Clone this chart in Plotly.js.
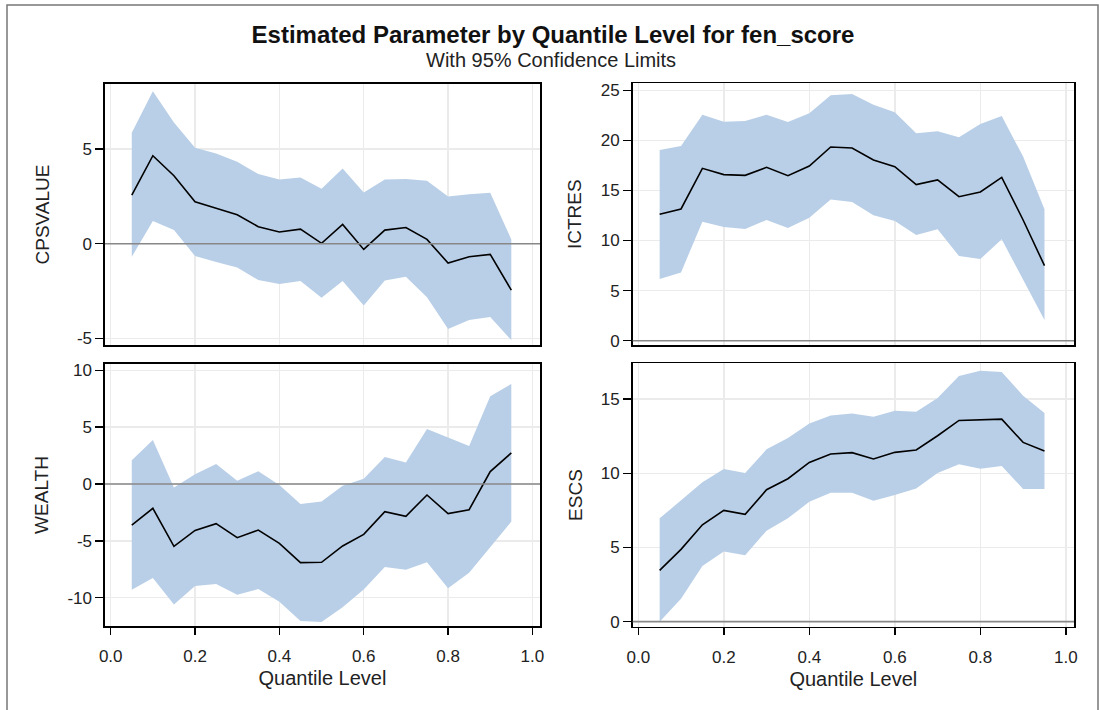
<!DOCTYPE html>
<html>
<head>
<meta charset="utf-8">
<script src="https://cdn.plot.ly/plotly-3.0.1.min.js"></script>
<style>html,body{margin:0;padding:0;background:#fff;}#chart{width:1099px;height:710px;}</style>
</head>
<body>
<div id="chart"></div>
<script>
var quantiles = [0.05,0.10,0.15,0.20,0.25,0.30,0.35,0.40,0.45,0.50,0.55,0.60,0.65,0.70,0.75,0.80,0.85,0.90,0.95];

var cpsvalueEst   = [2.57,4.65,3.59,2.22,1.88,1.53,0.90,0.62,0.77,0.02,1.02,-0.30,0.72,0.86,0.23,-1.02,-0.69,-0.56,-2.45];
var cpsvalueUpper = [5.86,8.06,6.41,5.07,4.77,4.33,3.68,3.40,3.50,2.90,3.98,2.71,3.40,3.42,3.33,2.50,2.62,2.69,0.23];
var cpsvalueLower = [-0.69,1.20,0.72,-0.65,-0.97,-1.25,-1.92,-2.13,-1.97,-2.85,-1.97,-3.26,-1.94,-1.74,-2.83,-4.51,-4.03,-3.87,-5.09];

var ictresEst   = [12.62,13.15,17.21,16.58,16.51,17.31,16.48,17.44,19.34,19.24,18.04,17.38,15.58,16.05,14.38,14.85,16.31,12.05,7.49];
var ictresUpper = [19.04,19.44,22.57,21.87,21.94,22.57,21.84,22.70,24.50,24.63,23.57,22.80,20.71,20.91,20.31,21.64,22.44,18.38,13.12];
var ictresLower = [6.16,6.82,11.88,11.35,11.15,12.05,11.25,12.28,14.11,13.85,12.52,11.95,10.55,11.12,8.46,8.16,10.12,6.06,2.06];

var wealthEst   = [-3.61,-2.14,-5.48,-4.08,-3.49,-4.72,-4.05,-5.22,-6.92,-6.89,-5.45,-4.43,-2.43,-2.84,-0.97,-2.61,-2.26,1.09,2.73];
var wealthUpper = [2.08,3.87,-0.32,0.85,1.76,0.29,1.11,-0.09,-1.76,-1.55,-0.15,0.47,2.38,1.88,4.84,4.08,3.34,7.71,8.80];
var wealthLower = [-9.30,-8.27,-10.59,-8.97,-8.80,-9.74,-9.24,-10.35,-12.05,-12.14,-10.85,-9.27,-7.30,-7.54,-6.89,-9.18,-7.80,-5.51,-3.31];

var escsEst   = [3.46,4.87,6.53,7.50,7.23,8.89,9.63,10.73,11.30,11.39,10.96,11.41,11.57,12.53,13.56,13.61,13.65,12.08,11.50];
var escsUpper = [6.96,8.15,9.39,10.29,10.02,11.61,12.37,13.36,13.90,14.03,13.81,14.22,14.15,15.07,16.55,16.91,16.82,15.23,14.06];
var escsLower = [0.00,1.55,3.75,4.72,4.47,6.13,6.96,8.08,8.69,8.69,8.15,8.53,8.98,10.02,10.60,10.31,10.49,8.94,8.94];

var xTickVals = [0,0.2,0.4,0.6,0.8,1.0];
var xTickText = ['0.0','0.2','0.4','0.6','0.8','1.0'];
var cpsvalueTickVals = [-5,0,5];       var cpsvalueTickText = ['-5','0','5'];
var ictresTickVals = [0,5,10,15,20,25]; var ictresTickText = ['0','5','10','15','20','25'];
var wealthTickVals = [-10,-5,0,5,10];  var wealthTickText = ['-10','-5','0','5','10'];
var escsTickVals = [0,5,10,15];        var escsTickText = ['0','5','10','15'];
var panelNames = ['CPSVALUE','ICTRES','WEALTH','ESCS'];
var xTitle = 'Quantile Level';

var bandColor = '#b9cfe7';
var FONT = 'Liberation Sans, Arial, sans-serif';

var panels = [
  {lo: cpsvalueLower, hi: cpsvalueUpper, est: cpsvalueEst, xa:'x',  ya:'y'},
  {lo: ictresLower,   hi: ictresUpper,   est: ictresEst,   xa:'x2', ya:'y2'},
  {lo: wealthLower,   hi: wealthUpper,   est: wealthEst,   xa:'x3', ya:'y3'},
  {lo: escsLower,     hi: escsUpper,     est: escsEst,     xa:'x4', ya:'y4'}
];

var traces = [];
panels.forEach(function(p){
  traces.push({x: quantiles, y: p.lo, xaxis: p.xa, yaxis: p.ya, mode:'lines', line:{width:0, color:bandColor}, hoverinfo:'skip', showlegend:false});
  traces.push({x: quantiles, y: p.hi, xaxis: p.xa, yaxis: p.ya, mode:'lines', line:{width:0, color:bandColor}, fill:'tonexty', fillcolor:bandColor, showlegend:false});
});
panels.forEach(function(p){
  traces.push({x: quantiles, y: p.est, xaxis: p.xa, yaxis: p.ya, mode:'lines', line:{width:1.6, color:'#000'}, showlegend:false});
});

function xax(domain, range, bottom){
  var a = {domain: domain, range: range, tickvals: xTickVals, ticktext: xTickText,
    showgrid:true, gridcolor:'#ebebeb', gridwidth:1.5, zeroline:false,
    showline:true, mirror:true, linecolor:'#000', linewidth:1.6,
    tickfont:{family:FONT, size:17, color:'#222'}};
  if (bottom) {
    a.ticks = 'outside'; a.ticklen = 7; a.tickcolor = '#000'; a.tickwidth = 1.5;
    a.ticklabelstandoff = 7;
    a.title = {text: xTitle, font:{family:FONT, size:20, color:'#222'}, standoff: 6};
  } else {
    a.ticks = ''; a.showticklabels = false;
  }
  return a;
}
function yax(domain, range, tv, tt, title, anchor, standoff){
  return {domain: domain, range: range, tickvals: tv, ticktext: tt, anchor: anchor,
    showgrid:true, gridcolor:'#ebebeb', gridwidth:1.5, zeroline:false,
    showline:true, mirror:true, linecolor:'#000', linewidth:1.6,
    ticks:'outside', ticklen:8, tickcolor:'#000', tickwidth:1.5,
    tickfont:{family:FONT, size:17, color:'#222'},
    title:{text:title, font:{family:FONT, size:19, color:'#222'}, standoff: standoff}};
}

var W = 1099, H = 710;
var leftX = [105/W, 540/W], rightX = [632.7/W, 1074/W];

var layout = {
  width: W, height: H,
  margin:{l:0,r:0,t:0,b:0},
  paper_bgcolor:'#fff', plot_bgcolor:'#fff',
  font:{family:FONT, color:'#222'},
  showlegend:false,
  title:{text:'<b>Estimated Parameter by Quantile Level for fen_score</b>',
    font:{family:FONT, size:24, color:'#111'}, x:553/W, xanchor:'center', xref:'paper',
    y:1-35/H, yanchor:'middle', yref:'container'},
  xaxis:  Object.assign(xax(leftX,  [-0.0135,1.018], false), {anchor:'y'}),
  xaxis2: Object.assign(xax(rightX, [-0.013,1.019], false), {anchor:'y2'}),
  xaxis3: Object.assign(xax(leftX,  [-0.0135,1.018], true),  {anchor:'y3'}),
  xaxis4: Object.assign(xax(rightX, [-0.013,1.019], true),  {anchor:'y4'}),
  yaxis:  yax([1-345/H, 1-84/H],     [-5.35,8.44],  cpsvalueTickVals, cpsvalueTickText, panelNames[0], 'x', 22),
  yaxis2: yax([1-345/H, 1-83.3/H],   [-0.43,25.7],  ictresTickVals, ictresTickText, panelNames[1], 'x2', 14),
  yaxis3: yax([1-626/H, 1-364/H],    [-12.49,10.55],wealthTickVals, wealthTickText, panelNames[2], 'x3', 14),
  yaxis4: yax([1-626.7/H, 1-363.3/H],[-0.34,17.41], escsTickVals, escsTickText, panelNames[3], 'x4', 13),
  annotations:[
    {text:'With 95% Confidence Limits', xref:'paper', yref:'paper', x:551/W, y:1-60/H,
     xanchor:'center', yanchor:'middle', showarrow:false, font:{family:FONT, size:20, color:'#222'}}
  ],
  shapes:[
    {type:'line', xref:'x domain', yref:'y',  x0:0, x1:1, y0:0, y1:0, line:{color:'#888', width:1.6}, layer:'above'},
    {type:'line', xref:'x2 domain', yref:'y2', x0:0, x1:1, y0:0, y1:0, line:{color:'#888', width:1.6}, layer:'above'},
    {type:'line', xref:'x3 domain', yref:'y3', x0:0, x1:1, y0:0, y1:0, line:{color:'#888', width:1.6}, layer:'above'},
    {type:'line', xref:'x4 domain', yref:'y4', x0:0, x1:1, y0:0, y1:0, line:{color:'#888', width:1.6}, layer:'above'},
    {type:'rect', xref:'paper', yref:'paper', x0:7/W, x1:1098/W, y0:-0.05, y1:1-5/H, line:{color:'#777', width:1.5}, fillcolor:'rgba(0,0,0,0)', layer:'below'}
  ]
};

Plotly.newPlot('chart', traces, layout, {displayModeBar:false, staticPlot:true});
</script>
</body>
</html>
